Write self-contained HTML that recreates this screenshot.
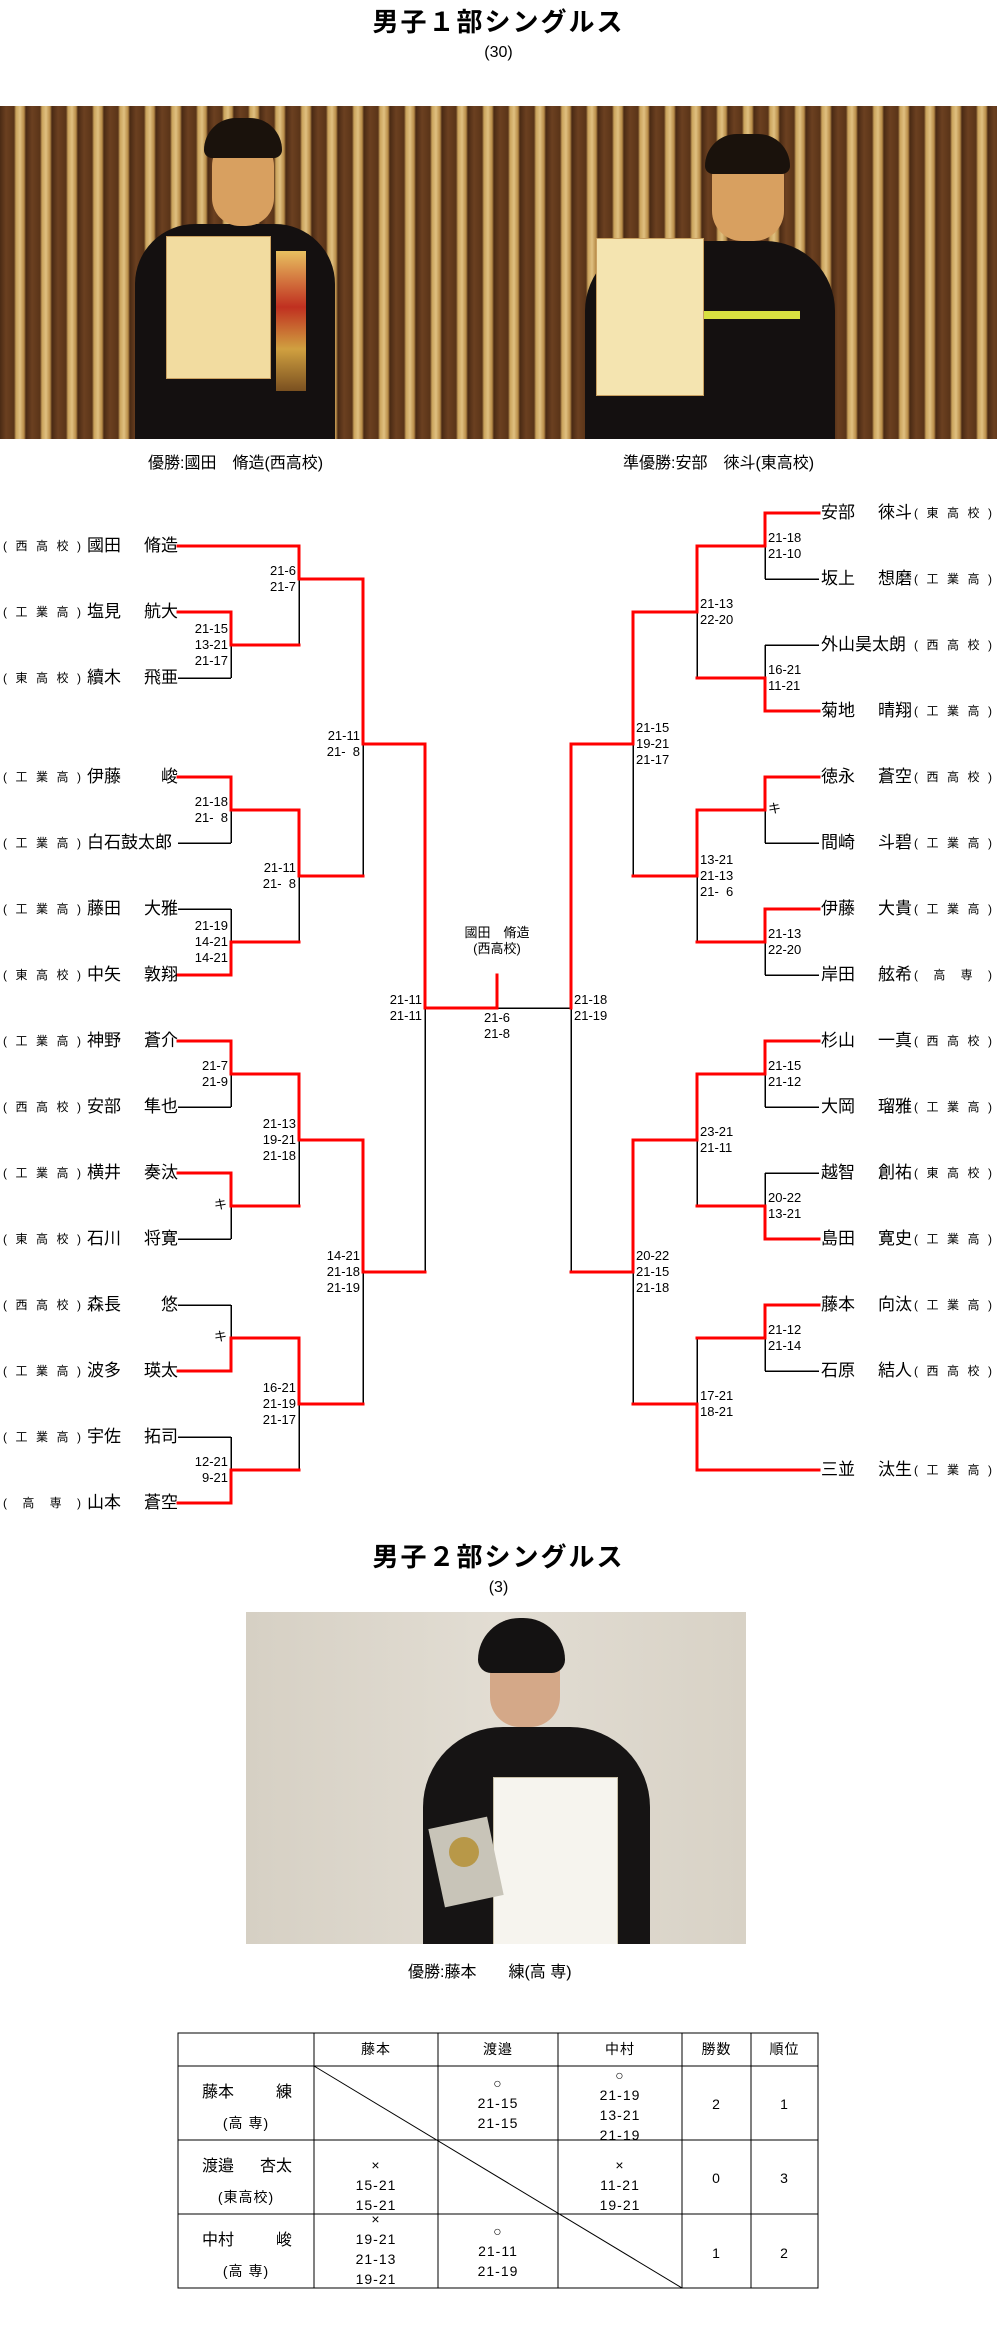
<!DOCTYPE html>
<html><head><meta charset="utf-8">
<style>
*{margin:0;padding:0;box-sizing:border-box}
body{width:997px;height:2326px;background:#fff;position:relative;overflow:hidden;font-family:"Liberation Sans","Noto Sans CJK JP",sans-serif;color:#000}
.a{position:absolute;white-space:nowrap}
.title{font-weight:bold;font-size:26px;letter-spacing:2px;text-align:center;width:997px;left:0;line-height:30px}
.sub{font-size:16px;text-align:center;width:997px;left:0;line-height:20px}
.cap{font-size:16px;line-height:20px}
.nm{font-size:17px;line-height:20px;height:20px;width:91px;display:flex;justify-content:space-between}
.sc{font-size:12px;line-height:20px;height:20px;width:78px;display:flex;justify-content:space-between}
.s{font-size:13px;line-height:16px}
.sl{text-align:right}
.t{font-size:14px;line-height:20px;text-align:center;letter-spacing:1px}
</style></head><body>

<div class="a title" style="top:7px">男子１部シングルス</div>
<div class="a sub" style="top:43px">(30)</div>

<!-- Photo 1 -->
<div class="a" style="left:0;top:106px;width:997px;height:333px;overflow:hidden;background:repeating-linear-gradient(90deg,#4a2a14 0px,#6b4020 6px,#5a3418 14px,#c9a35c 16px,#e0c080 20px,#b88c48 24px,#4a2a14 26px)">
  <!-- person 1 -->
  <div class="a" style="left:135px;top:118px;width:200px;height:230px;background:#141010;border-radius:60px 60px 0 0"></div>
  <div class="a" style="left:212px;top:30px;width:62px;height:90px;background:#d8a060;border-radius:30px 30px 28px 28px"></div>
  <div class="a" style="left:204px;top:12px;width:78px;height:40px;background:#1a120c;border-radius:40px 40px 10px 10px"></div>
  <div class="a" style="left:166px;top:130px;width:105px;height:143px;background:#f2dca0;border:1px solid #c9a060"></div>
  <div class="a" style="left:276px;top:145px;width:30px;height:140px;background:linear-gradient(#e8c060,#c03020 40%,#d0a040 70%,#7a5020)"></div>
  <!-- person 2 -->
  <div class="a" style="left:585px;top:135px;width:250px;height:200px;background:#141010;border-radius:70px 70px 0 0"></div>
  <div class="a" style="left:712px;top:40px;width:72px;height:95px;background:#d8a060;border-radius:30px 30px 30px 30px"></div>
  <div class="a" style="left:705px;top:28px;width:85px;height:40px;background:#1a120c;border-radius:40px 40px 10px 10px"></div>
  <div class="a" style="left:700px;top:205px;width:100px;height:8px;background:#d8e040"></div>
  <div class="a" style="left:596px;top:132px;width:108px;height:158px;background:#f4e4b0;border:1px solid #c9a060"></div>
</div>
<div class="a cap" style="left:148px;top:454px">優勝:國田　脩造(西高校)</div>
<div class="a cap" style="left:623px;top:454px">準優勝:安部　徠斗(東高校)</div>

<!-- Bracket lines -->
<svg class="a" style="left:0;top:0" width="997" height="2326" shape-rendering="crispEdges">
<g stroke="#000" stroke-width="1.5" fill="none">
<path d="M178 678H231M231 645V678M299 579V645M363 744V876M178 843H231M231 810V843M178 909H231M231 909V942M299 876V942M425 1008V1272M178 1107H231M231 1074V1107M178 1239H231M231 1206V1239M299 1140V1206M363 1272V1404M178 1305H231M231 1305V1338M178 1437H231M231 1437V1470M299 1404V1470"/>
<path d="M765 579H819M765 546V579M697 612V678M765 645H819M765 645V678M633 744V876M765 843H819M765 810V843M765 975H819M765 942V975M697 876V942M571 1008V1272M497 1008H571M765 1107H819M765 1074V1107M765 1173H819M765 1173V1206M697 1140V1206M633 1272V1404M765 1371H819M765 1338V1371M697 1338V1404"/>
</g>
<g stroke="#ff0000" stroke-width="3" fill="none" stroke-linecap="square">
<path d="M178 546H299M178 612H231V645H299M299 546V579H363V744H425V1008H497V975"/>
<path d="M178 777H231V810H299V876H363M178 975H231V942H299"/>
<path d="M178 1041H231V1074H299V1140H363V1272H425M178 1173H231V1206H299"/>
<path d="M178 1371H231V1338H299V1404H363M178 1503H231V1470H299"/>
<path d="M819 513H765V546H697V612H633V744H571V1008"/>
<path d="M819 711H765V678H697"/>
<path d="M819 777H765V810H697V876H633M819 909H765V942H697"/>
<path d="M819 1041H765V1074H697V1140H633V1272H571M819 1239H765V1206H697"/>
<path d="M819 1305H765V1338H697M819 1470H697V1404H633"/>
</g>
</svg>

<!-- Left names -->
<div class="a sc" style="left:3px;top:536px"><span>(</span><span>西</span><span>高</span><span>校</span><span>)</span></div><div class="a nm" style="left:87px;top:536px"><span>國田</span><span>脩造</span></div>
<div class="a sc" style="left:3px;top:602px"><span>(</span><span>工</span><span>業</span><span>高</span><span>)</span></div><div class="a nm" style="left:87px;top:602px"><span>塩見</span><span>航大</span></div>
<div class="a sc" style="left:3px;top:668px"><span>(</span><span>東</span><span>高</span><span>校</span><span>)</span></div><div class="a nm" style="left:87px;top:668px"><span>續木</span><span>飛亜</span></div>
<div class="a sc" style="left:3px;top:767px"><span>(</span><span>工</span><span>業</span><span>高</span><span>)</span></div><div class="a nm" style="left:87px;top:767px"><span>伊藤</span><span>峻</span></div>
<div class="a sc" style="left:3px;top:833px"><span>(</span><span>工</span><span>業</span><span>高</span><span>)</span></div><div class="a nm" style="left:87px;top:833px"><span>白石鼓太郎</span></div>
<div class="a sc" style="left:3px;top:899px"><span>(</span><span>工</span><span>業</span><span>高</span><span>)</span></div><div class="a nm" style="left:87px;top:899px"><span>藤田</span><span>大雅</span></div>
<div class="a sc" style="left:3px;top:965px"><span>(</span><span>東</span><span>高</span><span>校</span><span>)</span></div><div class="a nm" style="left:87px;top:965px"><span>中矢</span><span>敦翔</span></div>
<div class="a sc" style="left:3px;top:1031px"><span>(</span><span>工</span><span>業</span><span>高</span><span>)</span></div><div class="a nm" style="left:87px;top:1031px"><span>神野</span><span>蒼介</span></div>
<div class="a sc" style="left:3px;top:1097px"><span>(</span><span>西</span><span>高</span><span>校</span><span>)</span></div><div class="a nm" style="left:87px;top:1097px"><span>安部</span><span>隼也</span></div>
<div class="a sc" style="left:3px;top:1163px"><span>(</span><span>工</span><span>業</span><span>高</span><span>)</span></div><div class="a nm" style="left:87px;top:1163px"><span>横井</span><span>奏汰</span></div>
<div class="a sc" style="left:3px;top:1229px"><span>(</span><span>東</span><span>高</span><span>校</span><span>)</span></div><div class="a nm" style="left:87px;top:1229px"><span>石川</span><span>将寛</span></div>
<div class="a sc" style="left:3px;top:1295px"><span>(</span><span>西</span><span>高</span><span>校</span><span>)</span></div><div class="a nm" style="left:87px;top:1295px"><span>森長</span><span>悠</span></div>
<div class="a sc" style="left:3px;top:1361px"><span>(</span><span>工</span><span>業</span><span>高</span><span>)</span></div><div class="a nm" style="left:87px;top:1361px"><span>波多</span><span>瑛太</span></div>
<div class="a sc" style="left:3px;top:1427px"><span>(</span><span>工</span><span>業</span><span>高</span><span>)</span></div><div class="a nm" style="left:87px;top:1427px"><span>宇佐</span><span>拓司</span></div>
<div class="a sc" style="left:3px;top:1493px"><span>(</span><span>高</span><span>専</span><span>)</span></div><div class="a nm" style="left:87px;top:1493px"><span>山本</span><span>蒼空</span></div>

<!-- Right names -->
<div class="a nm" style="left:821px;top:503px"><span>安部</span><span>徠斗</span></div><div class="a sc" style="left:914px;top:503px"><span>(</span><span>東</span><span>高</span><span>校</span><span>)</span></div>
<div class="a nm" style="left:821px;top:569px"><span>坂上</span><span>想磨</span></div><div class="a sc" style="left:914px;top:569px"><span>(</span><span>工</span><span>業</span><span>高</span><span>)</span></div>
<div class="a nm" style="left:821px;top:635px"><span>外山昊太朗</span></div><div class="a sc" style="left:914px;top:635px"><span>(</span><span>西</span><span>高</span><span>校</span><span>)</span></div>
<div class="a nm" style="left:821px;top:701px"><span>菊地</span><span>晴翔</span></div><div class="a sc" style="left:914px;top:701px"><span>(</span><span>工</span><span>業</span><span>高</span><span>)</span></div>
<div class="a nm" style="left:821px;top:767px"><span>徳永</span><span>蒼空</span></div><div class="a sc" style="left:914px;top:767px"><span>(</span><span>西</span><span>高</span><span>校</span><span>)</span></div>
<div class="a nm" style="left:821px;top:833px"><span>間崎</span><span>斗碧</span></div><div class="a sc" style="left:914px;top:833px"><span>(</span><span>工</span><span>業</span><span>高</span><span>)</span></div>
<div class="a nm" style="left:821px;top:899px"><span>伊藤</span><span>大貴</span></div><div class="a sc" style="left:914px;top:899px"><span>(</span><span>工</span><span>業</span><span>高</span><span>)</span></div>
<div class="a nm" style="left:821px;top:965px"><span>岸田</span><span>舷希</span></div><div class="a sc" style="left:914px;top:965px"><span>(</span><span>高</span><span>専</span><span>)</span></div>
<div class="a nm" style="left:821px;top:1031px"><span>杉山</span><span>一真</span></div><div class="a sc" style="left:914px;top:1031px"><span>(</span><span>西</span><span>高</span><span>校</span><span>)</span></div>
<div class="a nm" style="left:821px;top:1097px"><span>大岡</span><span>瑠雅</span></div><div class="a sc" style="left:914px;top:1097px"><span>(</span><span>工</span><span>業</span><span>高</span><span>)</span></div>
<div class="a nm" style="left:821px;top:1163px"><span>越智</span><span>創祐</span></div><div class="a sc" style="left:914px;top:1163px"><span>(</span><span>東</span><span>高</span><span>校</span><span>)</span></div>
<div class="a nm" style="left:821px;top:1229px"><span>島田</span><span>寛史</span></div><div class="a sc" style="left:914px;top:1229px"><span>(</span><span>工</span><span>業</span><span>高</span><span>)</span></div>
<div class="a nm" style="left:821px;top:1295px"><span>藤本</span><span>向汰</span></div><div class="a sc" style="left:914px;top:1295px"><span>(</span><span>工</span><span>業</span><span>高</span><span>)</span></div>
<div class="a nm" style="left:821px;top:1361px"><span>石原</span><span>結人</span></div><div class="a sc" style="left:914px;top:1361px"><span>(</span><span>西</span><span>高</span><span>校</span><span>)</span></div>
<div class="a nm" style="left:821px;top:1460px"><span>三並</span><span>汰生</span></div><div class="a sc" style="left:914px;top:1460px"><span>(</span><span>工</span><span>業</span><span>高</span><span>)</span></div>

<!-- Left scores (right edge = x-3) -->
<div class="a s sl" style="right:769px;top:621px">21-15<br>13-21<br>21-17</div>
<div class="a s sl" style="right:769px;top:794px">21-18<br>21-&#8199;8</div>
<div class="a s sl" style="right:769px;top:918px">21-19<br>14-21<br>14-21</div>
<div class="a s sl" style="right:769px;top:1058px">21-7<br>21-9</div>
<div class="a s sl" style="right:770px;top:1197px">キ</div>
<div class="a s sl" style="right:770px;top:1329px">キ</div>
<div class="a s sl" style="right:769px;top:1454px">12-21<br>9-21</div>
<div class="a s sl" style="right:701px;top:563px">21-6<br>21-7</div>
<div class="a s sl" style="right:701px;top:860px">21-11<br>21-&#8199;8</div>
<div class="a s sl" style="right:701px;top:1116px">21-13<br>19-21<br>21-18</div>
<div class="a s sl" style="right:701px;top:1380px">16-21<br>21-19<br>21-17</div>
<div class="a s sl" style="right:637px;top:728px">21-11<br>21-&#8199;8</div>
<div class="a s sl" style="right:637px;top:1248px">14-21<br>21-18<br>21-19</div>
<div class="a s sl" style="right:575px;top:992px">21-11<br>21-11</div>

<!-- Right scores -->
<div class="a s" style="left:768px;top:530px">21-18<br>21-10</div>
<div class="a s" style="left:768px;top:662px">16-21<br>11-21</div>
<div class="a s" style="left:768px;top:801px">キ</div>
<div class="a s" style="left:768px;top:926px">21-13<br>22-20</div>
<div class="a s" style="left:768px;top:1058px">21-15<br>21-12</div>
<div class="a s" style="left:768px;top:1190px">20-22<br>13-21</div>
<div class="a s" style="left:768px;top:1322px">21-12<br>21-14</div>
<div class="a s" style="left:700px;top:596px">21-13<br>22-20</div>
<div class="a s" style="left:700px;top:852px">13-21<br>21-13<br>21-&#8199;6</div>
<div class="a s" style="left:700px;top:1124px">23-21<br>21-11</div>
<div class="a s" style="left:700px;top:1388px">17-21<br>18-21</div>
<div class="a s" style="left:636px;top:720px">21-15<br>19-21<br>21-17</div>
<div class="a s" style="left:636px;top:1248px">20-22<br>21-15<br>21-18</div>
<div class="a s" style="left:574px;top:992px">21-18<br>21-19</div>

<!-- Center -->
<div class="a s" style="left:447px;top:925px;width:100px;text-align:center;font-size:13px">國田　脩造<br>(西高校)</div>
<div class="a s" style="left:447px;top:1010px;width:100px;text-align:center">21-6<br>21-8</div>

<!-- Section 2 -->
<div class="a title" style="top:1542px">男子２部シングルス</div>
<div class="a sub" style="top:1578px">(3)</div>
<div class="a" style="left:246px;top:1612px;width:500px;height:332px;overflow:hidden;background:linear-gradient(90deg,#d6d0c4,#e2ddd3 50%,#d8d2c6)">
  <div class="a" style="left:177px;top:115px;width:227px;height:230px;background:#161414;border-radius:80px 80px 0 0"></div>
  <div class="a" style="left:244px;top:20px;width:70px;height:95px;background:#d4a888;border-radius:30px"></div>
  <div class="a" style="left:232px;top:6px;width:87px;height:55px;background:#141212;border-radius:44px 44px 14px 14px"></div>
  <div class="a" style="left:247px;top:165px;width:125px;height:170px;background:#f6f4ee;border:1px solid #c8c0a8"></div>
  <div class="a" style="left:190px;top:210px;width:60px;height:80px;background:#c8c4b8;transform:rotate(-12deg)"></div>
  <div class="a" style="left:203px;top:225px;width:30px;height:30px;background:#b89848;border-radius:50%"></div>
</div>
<div class="a cap" style="left:408px;top:1963px">優勝:藤本　　練(高 専)</div>

<!-- Table -->
<svg class="a" style="left:0;top:0" width="997" height="2326" shape-rendering="crispEdges">
<g stroke="#000" stroke-width="1.3" fill="none">
<rect x="178" y="2033" width="640" height="255"/>
<path d="M178 2066H818M178 2140H818M178 2214H818M314 2033V2288M438 2033V2288M558 2033V2288M682 2033V2288M751 2033V2288"/>
</g>
<path d="M314 2066L682 2288" stroke="#000" stroke-width="1" fill="none" shape-rendering="auto"/>
</svg>
<div class="a t" style="left:314px;top:2039px;width:124px">藤本</div>
<div class="a t" style="left:438px;top:2039px;width:120px">渡邉</div>
<div class="a t" style="left:558px;top:2039px;width:124px">中村</div>
<div class="a t" style="left:682px;top:2039px;width:69px">勝数</div>
<div class="a t" style="left:751px;top:2039px;width:67px">順位</div>

<div class="a" style="left:202px;top:2083px;width:90px;font-size:16px;line-height:20px;display:flex;justify-content:space-between"><span>藤本</span><span>練</span></div>
<div class="a t" style="left:178px;top:2113px;width:136px">(高 専)</div>
<div class="a" style="left:202px;top:2157px;width:90px;font-size:16px;line-height:20px;display:flex;justify-content:space-between"><span>渡邉</span><span>杏太</span></div>
<div class="a t" style="left:178px;top:2187px;width:136px">(東高校)</div>
<div class="a" style="left:202px;top:2231px;width:90px;font-size:16px;line-height:20px;display:flex;justify-content:space-between"><span>中村</span><span>峻</span></div>
<div class="a t" style="left:178px;top:2261px;width:136px">(高 専)</div>

<div class="a t" style="left:438px;top:2073px;width:120px">○<br>21-15<br>21-15</div>
<div class="a" style="left:558px;top:2067px;width:124px;height:73px;overflow:hidden"><div class="t" style="margin-top:-2px">○<br>21-19<br>13-21<br>21-19</div></div>
<div class="a t" style="left:682px;top:2094px;width:69px">2</div>
<div class="a t" style="left:751px;top:2094px;width:67px">1</div>

<div class="a t" style="left:314px;top:2155px;width:124px">×<br>15-21<br>15-21</div>
<div class="a t" style="left:558px;top:2155px;width:124px">×<br>11-21<br>19-21</div>
<div class="a t" style="left:682px;top:2168px;width:69px">0</div>
<div class="a t" style="left:751px;top:2168px;width:67px">3</div>

<div class="a t" style="left:314px;top:2209px;width:124px">×<br>19-21<br>21-13<br>19-21</div>
<div class="a t" style="left:438px;top:2221px;width:120px">○<br>21-11<br>21-19</div>
<div class="a t" style="left:682px;top:2243px;width:69px">1</div>
<div class="a t" style="left:751px;top:2243px;width:67px">2</div>

</body></html>
